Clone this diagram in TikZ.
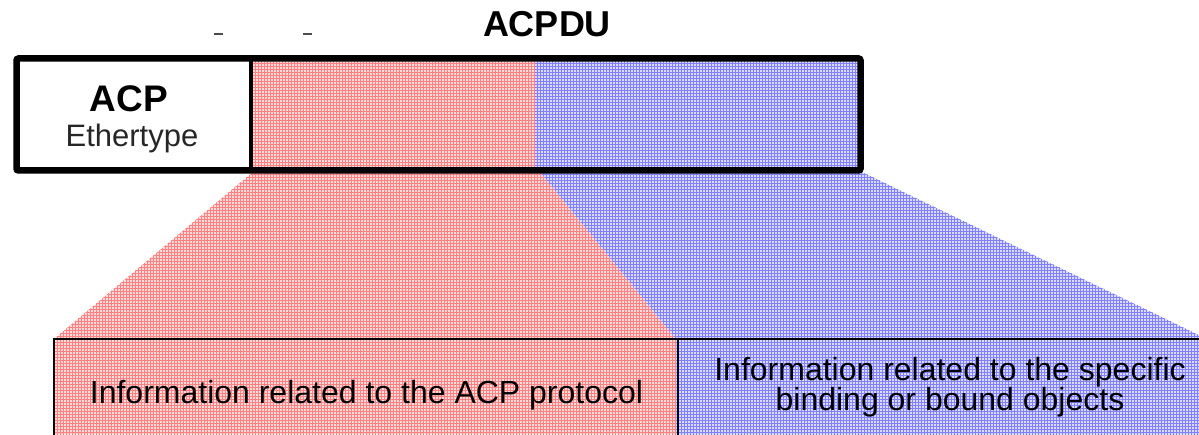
\documentclass[tikz,border=0pt]{standalone}
\usepackage{fontspec}
\setmainfont{Liberation Sans}
\usetikzlibrary{patterns}
\begin{document}
\begin{tikzpicture}[x=1pt,y=-1pt,
  redfill/.style={fill=red!14, postaction={pattern=grid, pattern color=red!50}},
  bluefill/.style={fill=blue!14, postaction={pattern=grid, pattern color=blue!50}},
  txt/.style={inner sep=0pt, anchor=base},
  bigbold/.style={font=\bfseries\fontsize{36}{36}\selectfont},
  body/.style={font=\fontsize{32}{32}\selectfont}]
\useasboundingbox (0,0) rectangle (1199,435);
\clip (0,0) rectangle (1199,435);
% fills in the top box
\path[redfill] (253,60) rectangle (535,172);
\path[bluefill] (535,60) rectangle (860,172);
% expansion fans
\path[redfill] (253,172) -- (540,172) -- (676,339) -- (676,440) -- (54,440) -- (54,339) -- cycle;
\path[bluefill] (540,172) -- (862,172) -- (1207,339) -- (1207,440) -- (676,440) -- (676,339) -- cycle;
% top box
\draw[line width=6.5pt, rounded corners=2pt] (16.5,58.5) rectangle (860.5,170.5);
\draw[line width=4pt] (251,58.5) -- (251,170.5);
% bottom boxes
\draw[line width=2pt] (54,339) rectangle (678,445);
\draw[line width=2pt] (678,339) rectangle (1210,445);
% tiny remnant marks
\fill[black!70] (214,33) rectangle (223,35.5);
\fill[black!70] (303,33) rectangle (312,35.5);
% texts
\node[txt, bigbold] (acpdu) at (547,37) {ACPDU};
\node[txt, font=\bfseries\fontsize{37}{37}\selectfont] (acp) at (129,112) {ACP};
\node[txt, font=\fontsize{31}{31}\selectfont, text=black!85] (eth) at (132,147) {Ethertype};
\node[txt, body] (info1) at (366.5,403) {Information related to the ACP protocol};
\node[txt, body] (info2a) at (950,380.5) {Information related to the specific};
\node[txt, body] (info2b) at (950,410.5) {binding or bound objects};
\end{tikzpicture}
\end{document}
